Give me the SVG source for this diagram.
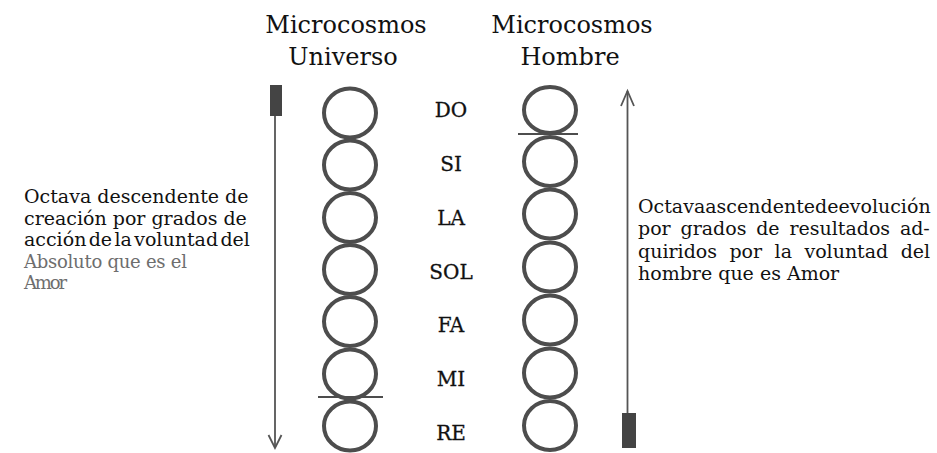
<svg xmlns="http://www.w3.org/2000/svg" width="937" height="453" viewBox="0 0 937 453">
<defs>
<style>
.title{font-family:"DejaVu Serif","Liberation Serif",serif;font-size:24px;fill:#111;text-anchor:middle}
.note{font-family:"DejaVu Serif","Liberation Serif",serif;font-size:19px;fill:#111}
.gray{fill:#6e6e6e;font-size:18px}
.lbl{font-family:"DejaVu Serif","Liberation Serif",serif;font-size:20px;fill:#111;text-anchor:middle;stroke:#111;stroke-width:0.3}
.ring{fill:none;stroke:#4d4d4d;stroke-width:4}
.bar{stroke:#4d4d4d;stroke-width:2}
.axis{stroke:#555;stroke-width:1.8;fill:none}
.block{fill:#444}
</style>
</defs>
<rect width="937" height="453" fill="#fff"/>

<g id="titles">
<text class="title" x="346" y="33">Microcosmos</text>
<text class="title" x="343" y="65">Universo</text>
<text class="title" x="572" y="33">Microcosmos</text>
<text class="title" x="570" y="65">Hombre</text>
</g>

<g id="universo">
<ellipse class="ring" cx="350" cy="113" rx="26" ry="24.5"/>
<ellipse class="ring" cx="350" cy="165" rx="26" ry="24.5"/>
<ellipse class="ring" cx="350" cy="217.5" rx="26" ry="24.5"/>
<ellipse class="ring" cx="350" cy="269.5" rx="26" ry="24.5"/>
<ellipse class="ring" cx="350" cy="321.5" rx="26" ry="24.5"/>
<ellipse class="ring" cx="350" cy="374" rx="26" ry="24.5"/>
<ellipse class="ring" cx="350" cy="426" rx="26" ry="24.5"/>
<line class="bar" x1="318" y1="397" x2="383" y2="397"/>
</g>

<g id="hombre">
<ellipse class="ring" cx="550" cy="110" rx="26" ry="23"/>
<ellipse class="ring" cx="550" cy="161.5" rx="26" ry="24.5"/>
<ellipse class="ring" cx="550" cy="214" rx="26" ry="24.5"/>
<ellipse class="ring" cx="550" cy="267" rx="26" ry="24.5"/>
<ellipse class="ring" cx="550" cy="320" rx="26" ry="24.5"/>
<ellipse class="ring" cx="550" cy="373" rx="26" ry="24.5"/>
<ellipse class="ring" cx="550" cy="425.5" rx="26" ry="24.5"/>
<line class="bar" x1="518" y1="134" x2="578" y2="134"/>
</g>

<g id="notas">
<text class="lbl" x="451" y="117">DO</text>
<text class="lbl" x="451" y="171">SI</text>
<text class="lbl" x="451" y="225">LA</text>
<text class="lbl" x="451" y="279">SOL</text>
<text class="lbl" x="451" y="332">FA</text>
<text class="lbl" x="451" y="386">MI</text>
<text class="lbl" x="451" y="440">RE</text>
</g>

<g id="connectors">
<rect class="block" x="270" y="85" width="12" height="31"/>
<line class="axis" x1="275" y1="116" x2="275" y2="447"/>
<polyline class="axis" points="268.5,435 275,448 281.5,435"/>
<line class="axis" x1="627.5" y1="91" x2="627.5" y2="415"/>
<polyline class="axis" points="621,106 627.5,91 634,106"/>
<rect class="block" x="622" y="413" width="14" height="35"/>
</g>

<g id="texto-descendente">
<text class="note" x="24" y="203">Octava descendente de</text>
<text class="note" x="24" y="224.5">creación por grados de</text>
<text class="note" x="24" y="246" word-spacing="-3.7">acción de la voluntad del</text>
<text class="note gray" x="24" y="267.5" textLength="163">Absoluto que es el</text>
<text class="note gray" x="24" y="289" textLength="43">Amor</text>
</g>

<g id="texto-ascendente">
<text class="note" x="638" y="213" word-spacing="-6">Octava ascendente de evolución</text>
<text class="note" x="638" y="235" word-spacing="3.75">por grados de resultados ad-</text>
<text class="note" x="638" y="257.5" word-spacing="6.4">quiridos por la voluntad del</text>
<text class="note" x="638" y="280">hombre que es Amor</text>
</g>
</svg>
